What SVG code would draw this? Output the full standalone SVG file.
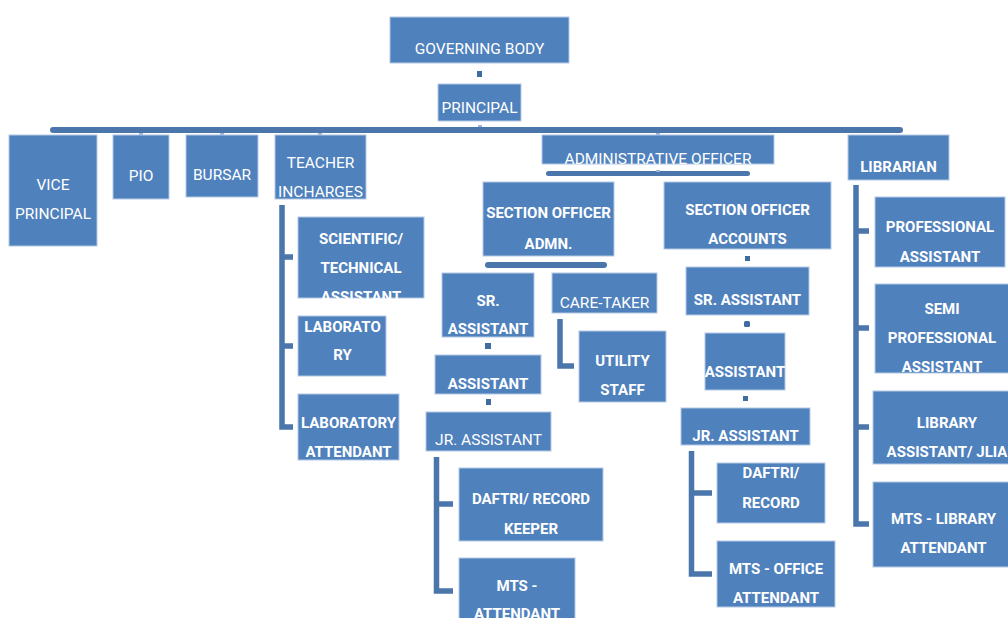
<svg xmlns="http://www.w3.org/2000/svg" width="1008" height="618" viewBox="0 0 1008 618">
<style>
.b{fill:#4F81BD;stroke:#B4C8E4;stroke-width:1}
.t{fill:#FFFFFF;font-family:Roboto,"Liberation Sans",sans-serif;font-size:15.5px;text-anchor:middle}
.tb{fill:#FFFFFF;font-family:Roboto,"Liberation Sans",sans-serif;font-size:15px;font-weight:bold;text-anchor:middle}
.bar{fill:#4A76AC}
.ln{fill:none;stroke:#4A76AC;stroke-width:5.5}
.dot{fill:#3F6C9F}
.tick{fill:#9DB6D8}
</style>
<rect width="1008" height="618" fill="#FFFFFF"/>
<g id="connectors">
<rect class="dot" x="477" y="71" width="5" height="6"/>
<rect class="bar" x="50" y="127" width="853" height="6" rx="3"/>
<rect class="tick" x="478" y="125" width="4" height="2"/>
<rect class="tick" x="139" y="133" width="4" height="2"/>
<rect class="tick" x="220" y="133" width="4" height="2"/>
<rect class="tick" x="318" y="133" width="4" height="2"/>
<rect class="tick" x="656" y="133" width="4" height="2"/>
<rect class="bar" x="546" y="171" width="204" height="5" rx="2.5"/>
<rect class="tick" x="656" y="170" width="4" height="2"/>
<rect class="bar" x="485" y="262" width="122" height="6" rx="3"/>
<path class="ln" d="M282,205 V427 H293 M282,257 H293 M282,346 H293"/>
<path class="ln" d="M560,319 V366 H574"/>
<rect class="dot" x="485" y="343" width="6" height="6"/>
<rect class="dot" x="486" y="399" width="5" height="6"/>
<path class="ln" d="M436.5,457 V591 H453 M436.5,504 H453"/>
<rect class="dot" x="745" y="256" width="5" height="5"/>
<rect class="dot" x="744" y="321" width="6" height="6" rx="1.5"/>
<rect class="dot" x="743" y="396" width="5" height="5"/>
<path class="ln" d="M691.5,451 V574 H712 M691.5,493 H712"/>
<path class="ln" d="M856,185 V524 H869 M856,231 H869 M856,328 H869 M856,427 H869"/>
</g>
<g id="governing-body"><rect class="b" x="390" y="17" width="179" height="46"/><text class="t" x="479.5" y="54">GOVERNING BODY</text></g>
<g id="principal"><rect class="b" x="438" y="84" width="83" height="37"/><text class="t" x="479.5" y="113">PRINCIPAL</text></g>
<g id="vice-principal"><rect class="b" x="9" y="135" width="88" height="111"/><text class="t" x="53" y="190">VICE</text><text class="t" x="53" y="219">PRINCIPAL</text></g>
<g id="pio"><rect class="b" x="113" y="135" width="56" height="64"/><text class="t" x="141" y="181">PIO</text></g>
<g id="bursar"><rect class="b" x="186" y="135" width="72" height="62"/><text class="t" x="222" y="180">BURSAR</text></g>
<g id="teacher-incharges"><rect class="b" x="275" y="135" width="91" height="64"/><text class="t" x="320.5" y="168">TEACHER</text><text class="t" x="320.5" y="197">INCHARGES</text></g>
<g id="administrative-officer"><rect class="b" x="542" y="135" width="232" height="29"/><text class="t" x="658" y="164">ADMINISTRATIVE OFFICER</text></g>
<g id="librarian"><rect class="b" x="848" y="135" width="101" height="45"/><text class="tb" x="898.5" y="171.5">LIBRARIAN</text></g>
<g id="scientific-technical-assistant"><rect class="b" x="298" y="217" width="126" height="81"/><text class="tb" x="361" y="244">SCIENTIFIC/</text><text class="tb" x="361" y="273">TECHNICAL</text><text class="tb" x="361" y="302">ASSISTANT</text></g>
<g id="laboratory"><rect class="b" x="298" y="316" width="88" height="60"/><text class="tb" x="342.5" y="332">LABORATO</text><text class="tb" x="342.5" y="360">RY</text></g>
<g id="laboratory-attendant"><rect class="b" x="298" y="394" width="101" height="66"/><text class="tb" x="348.5" y="428">LABORATORY</text><text class="tb" x="348.5" y="457">ATTENDANT</text></g>
<g id="section-officer-admn"><rect class="b" x="483" y="182" width="131" height="74"/><text class="tb" x="548.5" y="218">SECTION OFFICER</text><text class="tb" x="548.5" y="249">ADMN.</text></g>
<g id="section-officer-accounts"><rect class="b" x="664" y="182" width="167" height="67"/><text class="tb" x="747.5" y="215">SECTION OFFICER</text><text class="tb" x="747.5" y="244">ACCOUNTS</text></g>
<g id="sr-assistant-admn"><rect class="b" x="442" y="273" width="92" height="64"/><text class="tb" x="488" y="306">SR.</text><text class="tb" x="488" y="334">ASSISTANT</text></g>
<g id="care-taker"><rect class="b" x="552" y="273" width="105" height="40"/><text class="t" x="604.5" y="308">CARE-TAKER</text></g>
<g id="utility-staff"><rect class="b" x="579" y="331" width="87" height="71"/><text class="tb" x="622.5" y="366">UTILITY</text><text class="tb" x="622.5" y="395">STAFF</text></g>
<g id="assistant-admn"><rect class="b" x="435" y="355" width="106" height="39"/><text class="tb" x="488" y="389">ASSISTANT</text></g>
<g id="jr-assistant-admn"><rect class="b" x="426" y="412" width="125" height="39"/><text class="t" x="488.5" y="445">JR. ASSISTANT</text></g>
<g id="daftri-record-keeper"><rect class="b" x="459" y="468" width="144" height="73"/><text class="tb" x="531" y="504">DAFTRI/ RECORD</text><text class="tb" x="531" y="534">KEEPER</text></g>
<g id="mts-attendant"><rect class="b" x="459" y="558" width="116" height="70"/><text class="tb" x="517" y="591">MTS -</text><text class="tb" x="517" y="619">ATTENDANT</text></g>
<g id="sr-assistant-accounts"><rect class="b" x="686" y="267" width="123" height="48"/><text class="tb" x="747.5" y="305">SR. ASSISTANT</text></g>
<g id="assistant-accounts"><rect class="b" x="705" y="333" width="80" height="57"/><text class="tb" x="745" y="377">ASSISTANT</text></g>
<g id="jr-assistant-accounts"><rect class="b" x="681" y="408" width="129" height="37"/><text class="tb" x="745.5" y="441">JR. ASSISTANT</text></g>
<g id="daftri-record"><rect class="b" x="717" y="463" width="108" height="60"/><text class="tb" x="771" y="478">DAFTRI/</text><text class="tb" x="771" y="508">RECORD</text></g>
<g id="mts-office-attendant"><rect class="b" x="717" y="541" width="118" height="66"/><text class="tb" x="776" y="574">MTS - OFFICE</text><text class="tb" x="776" y="603">ATTENDANT</text></g>
<g id="professional-assistant"><rect class="b" x="875" y="197" width="130" height="70"/><text class="tb" x="940" y="232">PROFESSIONAL</text><text class="tb" x="940" y="262">ASSISTANT</text></g>
<g id="semi-professional-assistant"><rect class="b" x="875" y="284" width="140" height="89"/><text class="tb" x="942" y="314">SEMI</text><text class="tb" x="942" y="343">PROFESSIONAL</text><text class="tb" x="942" y="372">ASSISTANT</text></g>
<g id="library-assistant-jlia"><rect class="b" x="873" y="391" width="145" height="73"/><text class="tb" x="947" y="428">LIBRARY</text><text class="tb" x="947" y="457">ASSISTANT/ JLIA</text></g>
<g id="mts-library-attendant"><rect class="b" x="873" y="482" width="145" height="85"/><text class="tb" x="943.5" y="524">MTS - LIBRARY</text><text class="tb" x="943.5" y="553">ATTENDANT</text></g>
</svg>
